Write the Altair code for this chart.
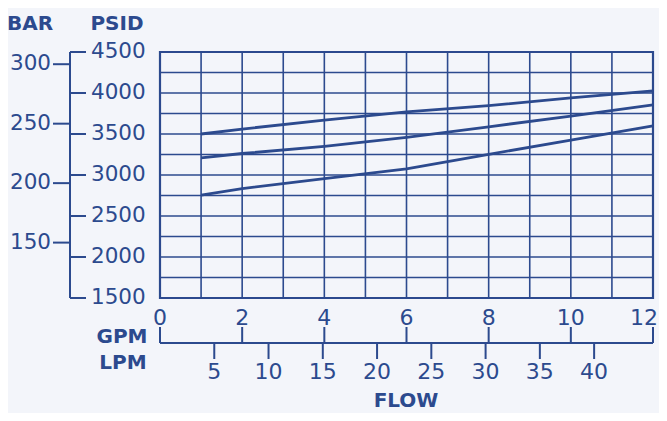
import altair as alt
import pandas as pd

# ---- data ----
gpm_pts = [1, 2, 4, 6, 8, 10, 12]
curve_hi = [3500, 3560, 3670, 3770, 3845, 3940, 4025]
curve_mid = [3210, 3262, 3350, 3460, 3588, 3718, 3855]
curve_lo = [2755, 2835, 2955, 3075, 3252, 3425, 3600]

psi_ticks = [1500, 2000, 2500, 3000, 3500, 4000, 4500]
bar_ticks = [150, 200, 250, 300]
gpm_ticks = [0, 2, 4, 6, 8, 10, 12]
lpm_ticks = [5, 10, 15, 20, 25, 30, 35, 40]
grid_x = list(range(0, 13))
grid_y = list(range(1500, 4501, 250))

PSI_PER_BAR = 14.5038
LPM_PER_GPM = 3.78541

BLUE = "#2c4a8e"
BG = "#f3f5fa"
FONT = "DejaVu Sans"

W, H = 493, 246

xs = alt.Scale(domain=[0, 12], nice=False, zero=False)
ys = alt.Scale(domain=[1500, 4500], nice=False, zero=False)


def Y(f):
    return alt.Y(f, scale=ys, axis=None)


def X(f):
    return alt.X(f, scale=xs, axis=None)


rows = []
for name, vals in [("hi", curve_hi), ("mid", curve_mid), ("lo", curve_lo)]:
    for g, p in zip(gpm_pts, vals):
        rows.append({"curve": name, "gpm": g, "psi": p})
curves_df = pd.DataFrame(rows)

# grid
gx = alt.Chart(pd.DataFrame({"gpm": grid_x})).mark_rule(color=BLUE, strokeWidth=1.6).encode(
    x=X("gpm:Q"), y=alt.value(0), y2=alt.value(H))
gy = alt.Chart(pd.DataFrame({"psi": grid_y})).mark_rule(color=BLUE, strokeWidth=1.6).encode(
    y=Y("psi:Q"), x=alt.value(0), x2=alt.value(W))

lines = alt.Chart(curves_df).mark_line(color=BLUE, strokeWidth=2.8).encode(
    x=X("gpm:Q"), y=Y("psi:Q"), detail="curve:N")

# PSID axis
psi_df = pd.DataFrame({"psi": psi_ticks})
psi_line = alt.Chart(psi_df).mark_rule(color=BLUE, strokeWidth=2).encode(
    x=alt.value(-90), y=alt.value(0), y2=alt.value(H))
psi_tk = alt.Chart(psi_df).mark_rule(color=BLUE, strokeWidth=2).encode(
    y=Y("psi:Q"), x=alt.value(-90), x2=alt.value(-74))
psi_lb = alt.Chart(psi_df).mark_text(
    color=BLUE, font=FONT, fontSize=21.5, align="left", baseline="middle"
).encode(y=Y("psi:Q"), x=alt.value(-69), text=alt.Text("psi:Q", format="d"))

# BAR axis
bar_df = pd.DataFrame({"bar": bar_ticks})
bar_tk = alt.Chart(bar_df).transform_calculate(psi=f"datum.bar * {PSI_PER_BAR}").mark_rule(
    color=BLUE, strokeWidth=2).encode(
    y=Y("psi:Q"), x=alt.value(-107), x2=alt.value(-90))
bar_lb = alt.Chart(bar_df).transform_calculate(psi=f"datum.bar * {PSI_PER_BAR}").mark_text(
    color=BLUE, font=FONT, fontSize=21.5, align="right", baseline="middle"
).encode(y=Y("psi:Q"), x=alt.value(-109), text=alt.Text("bar:Q", format="d"))

# GPM / LPM bracket axis
gpm_df = pd.DataFrame({"gpm": gpm_ticks})
bracket = alt.Chart(pd.DataFrame({"a": [0], "b": [12]})).mark_rule(color=BLUE, strokeWidth=2).encode(
    x=X("a:Q"), x2="b:Q", y=alt.value(291))
gpm_tk = alt.Chart(gpm_df).mark_rule(color=BLUE, strokeWidth=2).encode(
    x=X("gpm:Q"), y=alt.value(275), y2=alt.value(291))
gpm_lb = alt.Chart(gpm_df).transform_filter("datum.gpm < 12").mark_text(
    color=BLUE, font=FONT, fontSize=22, align="center", baseline="middle"
).encode(x=X("gpm:Q"), y=alt.value(266), text=alt.Text("gpm:Q", format="d"))
gpm_lb_end = alt.Chart(gpm_df).transform_filter("datum.gpm == 12").mark_text(
    color=BLUE, font=FONT, fontSize=22, align="right", baseline="middle", dx=5
).encode(x=X("gpm:Q"), y=alt.value(266), text=alt.Text("gpm:Q", format="d"))

lpm_df = pd.DataFrame({"lpm": lpm_ticks})
lpm_tk = alt.Chart(lpm_df).transform_calculate(gpm=f"datum.lpm / {LPM_PER_GPM}").mark_rule(
    color=BLUE, strokeWidth=2).encode(
    x=X("gpm:Q"), y=alt.value(291), y2=alt.value(307))
lpm_lb = alt.Chart(lpm_df).transform_calculate(gpm=f"datum.lpm / {LPM_PER_GPM}").mark_text(
    color=BLUE, font=FONT, fontSize=22, align="center", baseline="middle"
).encode(x=X("gpm:Q"), y=alt.value(320), text=alt.Text("lpm:Q", format="d"))

# titles
titles_df = pd.DataFrame({
    "t": ["BAR", "PSID", "GPM", "LPM", "FLOW"],
    "px": [-130, -43, -38, -37, 246],
    "py": [-28, -28, 285, 311, 349],
})
titles = alt.Chart(titles_df).mark_text(
    color=BLUE, font=FONT, fontSize=20, fontWeight="bold", align="center", baseline="middle"
).encode(x=alt.X("px:Q", scale=None, axis=None), y=alt.Y("py:Q", scale=None, axis=None), text="t:N")

chart = alt.layer(
    gx, gy, lines, psi_line, psi_tk, psi_lb, bar_tk, bar_lb,
    bracket, gpm_tk, gpm_lb, gpm_lb_end, lpm_tk, lpm_lb, titles
).properties(
    width=W, height=H,
    autosize=alt.AutoSizeParams(type="none"),
    padding={"left": 152, "top": 44, "right": 6, "bottom": 115},
    background=BG,
).configure_view(stroke=BLUE, strokeWidth=2.2)

chart.save("out.html", embed_options={"renderer": "svg", "actions": False})
